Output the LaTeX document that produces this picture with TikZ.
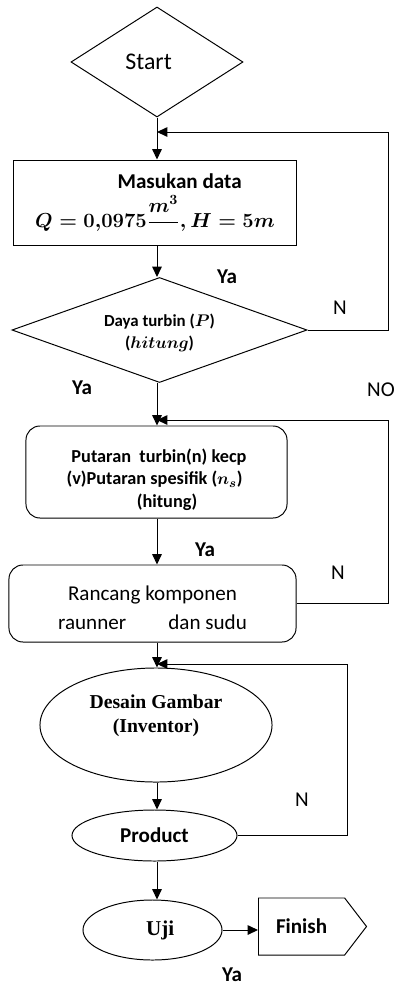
\documentclass[tikz,border=0pt]{standalone}
\usepackage{fontspec}
\setmainfont{Carlito}
\newfontfamily\serifbold{Liberation Serif}
\usetikzlibrary{shapes.geometric,shapes.symbols,arrows.meta}
\begin{document}
\begin{tikzpicture}[x=0.025cm,y=-0.025cm,every node/.style={font=\fontsize{15}{18}\selectfont},
  line/.style={line width=0.7pt},
  arr/.style={line,-{Triangle[length=2.6mm,width=2.4mm]}},
  decision/.style={draw,line,diamond,aspect=2.8,inner sep=0pt,align=center},
  procbox/.style={draw,line,rectangle,inner sep=0pt,align=center},
  roundbox/.style={procbox,rounded corners=10pt},
  oval/.style={draw,line,ellipse,inner sep=0pt,align=center},
  lbl/.style={inner sep=0pt}]
  \useasboundingbox (0,0) rectangle (395,987);
  \node[decision,minimum width=4.3cm,minimum height=2.75cm,font=\fontsize{17}{20}\selectfont] (start) at (157,62) {Start\hspace*{12pt}};
  \node[procbox,minimum width=7.05cm,minimum height=2.125cm,font=\bfseries\fontsize{15}{18}\selectfont] (masukan) at (155,202.5) {\hspace*{35pt}Masukan data\\[4pt]{\fontsize{14}{17}\selectfont\boldmath$Q=0{,}0975\raisebox{0pt}[\height][0pt]{$\displaystyle\frac{m^3}{}$},H=5m$}};
  \node[decision,minimum width=7.375cm,minimum height=2.625cm,font=\bfseries\fontsize{12}{15}\selectfont] (daya) at (159.5,330) {\rule{0pt}{13pt}Daya turbin ({\boldmath$P$})\\({\boldmath$hitung$})};
  \node[roundbox,minimum width=6.525cm,minimum height=2.3cm,align=left,font=\bfseries\fontsize{13}{16}\selectfont] (putaran) at (156.5,472) {\rule{0pt}{20pt}\hspace*{3.5pt}Putaran\ \ turbin(n) kecp\\(v)Putaran spesifik ({\boldmath$n_s$})\hspace*{27pt}\\\hspace*{50pt}(hitung)};
  \node[roundbox,minimum width=7.175cm,minimum height=1.925cm] (rancang) at (152.5,603.5) {\rule{0pt}{17pt}Rancang komponen\\[2.5pt]raunner\hspace{2em}dan sudu};
  \node[oval,minimum width=5.8cm,minimum height=2.85cm,font=\serifbold\bfseries\fontsize{14}{17}\selectfont] (desain) at (156,725) {Desain Gambar\\(Inventor)\rule[-16.5pt]{0pt}{16.5pt}};
  \node[oval,minimum width=4.125cm,minimum height=1.275cm,font=\bfseries\fontsize{15}{18}\selectfont] (product) at (154.5,835.5) {Product};
  \node[oval,minimum width=3.475cm,minimum height=1.5cm,font=\serifbold\bfseries\fontsize{15}{18}\selectfont] (uji) at (152.5,930) {\hspace*{11pt}Uji};
  \node[draw,line,signal,signal to=east,signal pointer angle=105,inner sep=0pt,minimum width=2.7cm,minimum height=1.425cm,anchor=west,font=\bfseries\fontsize{15}{18}\selectfont] (finish) at (258,926.5) {Finish};
  % column of the main flow and the joins of the loops
  \coordinate (col) at (157,0);
  \coordinate (j1) at (157,132);
  \coordinate (j2) at (157,420);
  \coordinate (j3) at (157,664);
  \draw[arr] (col |- start.south) -- (col |- masukan.north);
  \draw[arr] (col |- masukan.south) -- (col |- daya.north);
  \draw[arr] (col |- daya.south) -- (col |- putaran.north);
  \draw[arr] (col |- putaran.south) -- (col |- rancang.north);
  \draw[arr] (col |- rancang.south) -- (col |- desain.north);
  \draw[arr] (col |- desain.south) -- (col |- product.north);
  \draw[arr] (col |- product.south) -- (col |- uji.north);
  \draw[arr] (uji.east) -- (uji.east -| finish.west);
  % loops back
  \draw[arr] (daya.east) -- ++(81,0) |- (j1);
  \draw[arr] (rancang.east) -- ++(92,0) |- (j2);
  \draw[arr] (product.east) -- ++(110,0) |- (j3);
  % labels
  \node[lbl,font=\bfseries\fontsize{15}{18}\selectfont] (ya1) at (227,277) {Ya};
  \node[lbl] (n1) at (340,308) {N};
  \node[lbl,font=\bfseries\fontsize{15}{18}\selectfont] (ya2) at (82,388) {Ya};
  \node[lbl] (no1) at (381,390) {NO};
  \node[lbl,font=\bfseries\fontsize{15}{18}\selectfont] (ya3) at (205,550) {Ya};
  \node[lbl] (n2) at (338,573) {N};
  \node[lbl] (n3) at (302,800) {N};
  \node[lbl,font=\bfseries\fontsize{15}{18}\selectfont] (ya4) at (232,975) {Ya};
\end{tikzpicture}
\end{document}
